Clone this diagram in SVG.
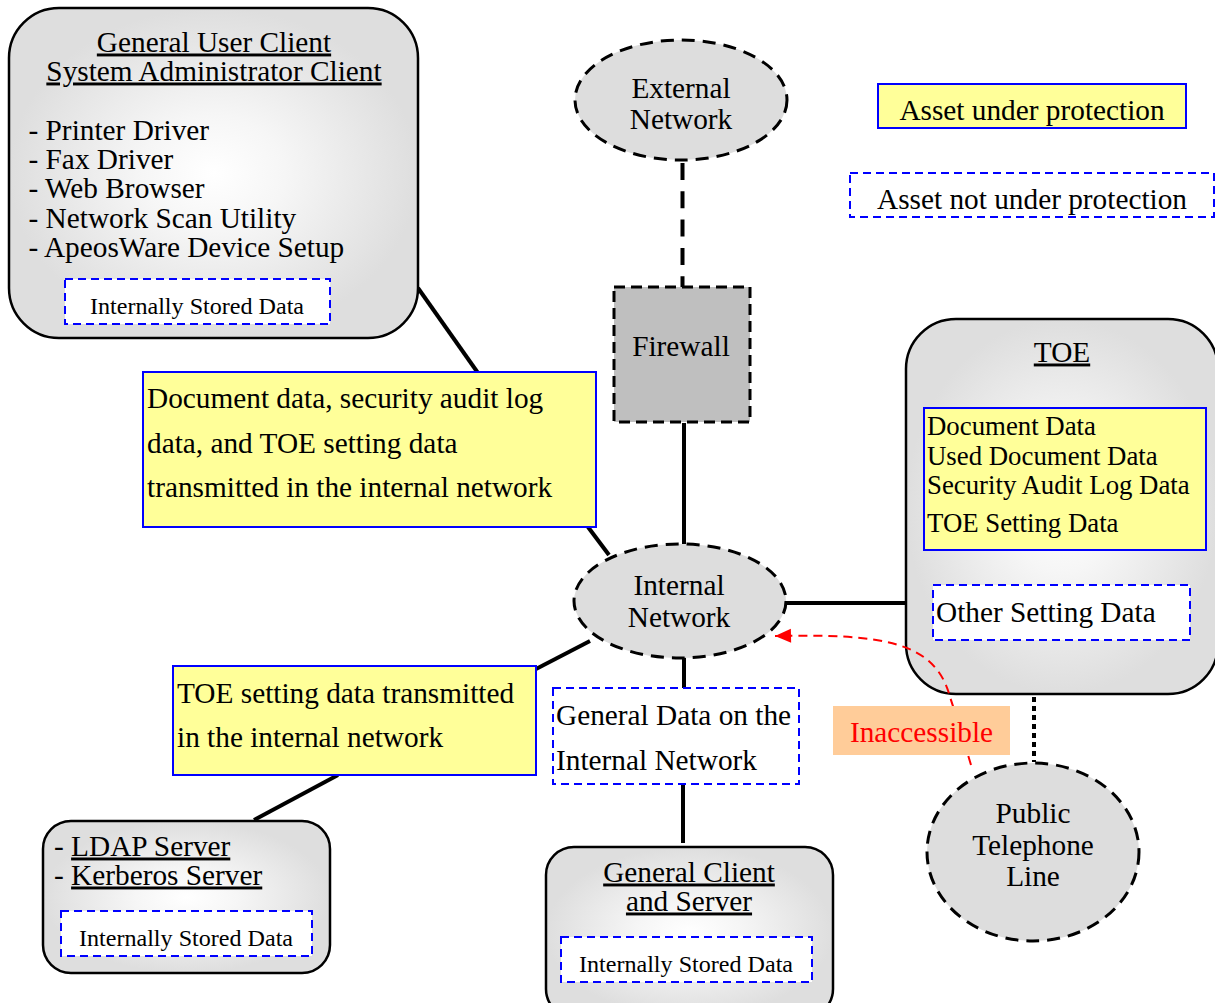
<svg xmlns="http://www.w3.org/2000/svg" width="1215" height="1003" viewBox="0 0 1215 1003">
<style>
text{font-family:"Liberation Serif","Times New Roman",serif;font-size:29.3px;fill:#000}
.s{font-size:24.1px}
.i{font-size:26.8px}
.m{text-anchor:middle}
.u{text-decoration:underline}
.rr{fill:url(#g);stroke:#000;stroke-width:2.5}
.el{fill:#ddd;stroke:#000;stroke-width:3;stroke-dasharray:13 8}
.y{fill:#ffff99;stroke:#0000ff;stroke-width:2}
.d{fill:#fff;stroke:#0000ff;stroke-width:2;stroke-dasharray:8 5}
.c{stroke:#000;stroke-width:4;fill:none}
</style>
<defs>
<radialGradient id="g" cx="50%" cy="50%" r="50%"><stop offset="0" stop-color="#fff"/><stop offset="0.35" stop-color="#f6f6f6"/><stop offset="1" stop-color="#dedede"/></radialGradient>
<marker id="arr" markerUnits="userSpaceOnUse" markerWidth="18" markerHeight="16" refX="17" refY="8" orient="auto"><path d="M1 1L17 8L1 15Z" fill="#f00"/></marker>
</defs>
<g id="connectors">
<line class="c" x1="418" y1="288" x2="478" y2="373"/>
<line class="c" x1="588" y1="527" x2="609" y2="555"/>
<line class="c" x1="682.5" y1="163" x2="682.5" y2="287" stroke-dasharray="17 11.3"/>
<line class="c" x1="684" y1="423" x2="684" y2="544"/>
<line class="c" x1="785" y1="603" x2="906" y2="603"/>
<line class="c" x1="1034" y1="697" x2="1034" y2="762" stroke-dasharray="5 4"/>
<line class="c" x1="536" y1="669" x2="590" y2="641"/>
<line class="c" x1="254" y1="820" x2="338" y2="775"/>
<line class="c" x1="684" y1="657" x2="684" y2="688"/>
<line class="c" x1="683" y1="784" x2="683" y2="843"/>
</g>
<g id="general-user-client">
<rect class="rr" x="9" y="8" width="409" height="330" rx="50"/>
<text class="m u" x="214" y="51.5">General User Client</text>
<text class="m u" x="214" y="80.5">System Administrator Client</text>
<text x="28.5" y="139.5">- Printer Driver</text>
<text x="28.5" y="168.5">- Fax Driver</text>
<text x="28.5" y="197.5">- Web Browser</text>
<text x="28.5" y="227.5">- Network Scan Utility</text>
<text x="28.5" y="256.5">- ApeosWare Device Setup</text>
<rect class="d" x="65" y="279" width="265" height="45"/>
<text class="s m" x="197" y="313.5">Internally Stored Data</text>
</g>
<g id="external-network">
<ellipse class="el" cx="681" cy="100" rx="106" ry="60"/>
<text class="m" x="681" y="97.5">External</text>
<text class="m" x="681" y="128.5">Network</text>
</g>
<g id="legend-protected">
<rect class="y" x="878" y="84" width="308" height="44"/>
<text class="m" x="1032" y="119.5">Asset under protection</text>
</g>
<g id="legend-unprotected">
<rect class="d" x="850" y="173" width="364" height="44"/>
<text class="m" x="1032" y="208.5">Asset not under protection</text>
</g>
<g id="firewall">
<rect x="614" y="287" width="136" height="135" fill="#bfbfbf" stroke="#000" stroke-width="3" stroke-dasharray="11 6"/>
<text class="m" x="681" y="355.5">Firewall</text>
</g>
<g id="toe">
<rect class="rr" x="906" y="319" width="312" height="375" rx="50"/>
<text class="m u" x="1062" y="361.5">TOE</text>
<rect class="y" x="924" y="408" width="282" height="142"/>
<text class="i" x="927" y="434.5">Document Data</text>
<text class="i" x="927" y="464.5">Used Document Data</text>
<text class="i" x="927" y="493.5">Security Audit Log Data</text>
<text class="i" x="927" y="531.5">TOE Setting Data</text>
<rect class="d" x="933" y="585" width="257" height="55"/>
<text x="936" y="621.5">Other Setting Data</text>
</g>
<g id="data-internal">
<rect class="y" x="143" y="372" width="453" height="155"/>
<text x="147" y="407.5">Document data, security audit log</text>
<text x="147" y="452.5">data, and TOE setting data</text>
<text x="147" y="496.5">transmitted in the internal network</text>
</g>
<g id="internal-network">
<ellipse class="el" cx="680" cy="601" rx="106" ry="57"/>
<text class="m" x="679" y="594.5">Internal</text>
<text class="m" x="679" y="626.5">Network</text>
</g>
<g id="toe-setting-data">
<rect class="y" x="173" y="666" width="363" height="109"/>
<text x="177" y="702.5">TOE setting data transmitted</text>
<text x="177" y="746.5">in the internal network</text>
</g>
<g id="general-data">
<rect class="d" x="553" y="688" width="246" height="96"/>
<text x="556" y="724.5">General Data on the</text>
<text x="556" y="769.5">Internal Network</text>
</g>
<g id="ldap-kerberos">
<rect class="rr" x="43" y="821" width="287" height="152" rx="28"/>
<text x="54" y="855.5">- <tspan class="u">LDAP Server</tspan></text>
<text x="54" y="884.5">- <tspan class="u">Kerberos Server</tspan></text>
<rect class="d" x="61" y="911" width="251" height="45"/>
<text class="s m" x="186" y="945.5">Internally Stored Data</text>
</g>
<g id="general-client">
<rect class="rr" x="546" y="847" width="287" height="170" rx="28"/>
<text class="m u" x="689" y="881.5">General Client</text>
<text class="m u" x="689" y="910.5">and Server</text>
<rect class="d" x="561" y="937" width="251" height="45"/>
<text class="s m" x="686" y="971.5">Internally Stored Data</text>
</g>
<g id="public-telephone">
<ellipse class="el" cx="1033" cy="852" rx="106" ry="89"/>
<text class="m" x="1033" y="822.5">Public</text>
<text class="m" x="1033" y="854.5">Telephone</text>
<text class="m" x="1033" y="885.5">Line</text>
</g>
<g id="connectors-access">
<path d="M971 765C962 735 955 712 950 697C935 640 880 634 775 636" fill="none" stroke="#f00" stroke-width="2" stroke-dasharray="9 6" marker-end="url(#arr)"/>
</g>
<g id="inaccessible">
<rect x="833" y="706" width="177" height="49" fill="#ffcc99"/>
<text class="m" x="921.5" y="741.5" style="fill:#f00">Inaccessible</text>
</g>
</svg>
